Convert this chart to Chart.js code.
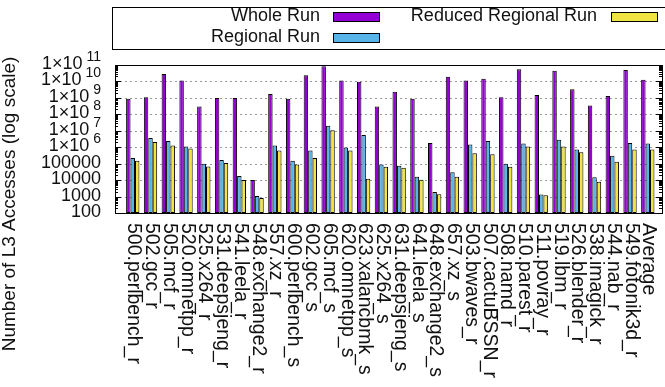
<!DOCTYPE html>
<html>
<head>
<meta charset="utf-8">
<script src="https://cdn.jsdelivr.net/npm/chart.js@4.4.1/dist/chart.umd.min.js"></script>
<style>
  body { margin: 0; background: #fff; }
  #l3-chart { display: block; }
</style>
</head>
<body>
<canvas id="l3-chart" width="665" height="387"></canvas>
<script>
const categories = [
  "500.perlbench_r", "502.gcc_r", "505.mcf_r", "520.omnetpp_r", "525.x264_r",
  "531.deepsjeng_r", "541.leela_r", "548.exchange2_r", "557.xz_r", "600.perlbench_s",
  "602.gcc_s", "605.mcf_s", "620.omnetpp_s", "623.xalancbmk_s", "625.x264_s",
  "631.deepsjeng_s", "641.leela_s", "648.exchange2_s", "657.xz_s", "503.bwaves_r",
  "507.cactuBSSN_r", "508.namd_r", "510.parest_r", "511.povray_r", "519.lbm_r",
  "526.blender_r", "538.imagick_r", "544.nab_r", "549.fotonik3d_r", "Average"
];

const wholeRun = [
  9e8, 1.1e9, 2.8e10, 1.15e10, 3e8,
  9.8e8, 1e9, 1e4, 1.7e9, 9e8,
  2.4e10, 8.5e10, 1.15e10, 9.5e9, 3e8,
  2.4e9, 9e8, 1.8e6, 1.9e10, 1.15e10,
  1.45e10, 1.1e9, 5.6e10, 1.5e9, 4.4e10,
  3.4e9, 3.5e8, 1.3e9, 4.9e10, 1.26e10
];

const regionalRun = [
  2.2e5, 3.7e6, 2.4e6, 1.1e6, 9.8e4,
  1.7e5, 1.75e4, 1070, 1.26e6, 1.5e5,
  6.3e5, 2e7, 9.5e5, 5.6e6, 8.9e4,
  7.4e4, 1.6e4, 1870, 3e4, 1.45e6,
  2.4e6, 9.8e4, 1.7e6, 1350, 2.8e6,
  7.2e5, 1.5e4, 3e5, 1.8e6, 1.7e6
];

const reducedRegionalRun = [
  1.5e5, 2.1e6, 1.26e6, 8.3e5, 6.7e4,
  1.1e5, 1e4, 810, 6.3e5, 8.9e4,
  2.2e5, 1.07e7, 6.3e5, 1.2e4, 6.4e4,
  5.6e4, 1.05e4, 1400, 1.6e4, 4.3e5,
  3.8e5, 6.4e4, 1.1e6, 1180, 1.1e6,
  5e5, 7900, 1.3e5, 7.2e5, 7.2e5
];

const yTickValues = [100, 1e3, 1e4, 1e5, 1e6, 1e7, 1e8, 1e9, 1e10, 1e11];
const yTickLabels = ["100", "1000", "10000", "100000", "1×10^6", "1×10^7", "1×10^8", "1×10^9", "1×10^10", "1×10^11"];

const seriesNames = ["Whole Run", "Regional Run", "Reduced Regional Run"];
const seriesColors = ["#9400d3", "#56b4e9", "#f0e442"];
const yTitle = "Number of L3 Accesses (log scale)";

const FONT = "'Liberation Sans', Arial, sans-serif";

function toPoints(values) {
  return values.map((v, i) => ({ x: i, y: v }));
}

// gnuplot-like frame, ticks, labels and key
const gnuplotDecor = {
  id: "gnuplotDecor",
  beforeDatasetsDraw(chart) {
    const { ctx, chartArea: a, scales: { y } } = chart;
    ctx.save();
    ctx.strokeStyle = "#999";
    ctx.lineWidth = 1;
    ctx.setLineDash([2, 3]);
    yTickValues.forEach(v => {
      const py = Math.round(y.getPixelForValue(v)) + 0.5;
      if (py <= a.top + 1 || py >= a.bottom - 1) return;
      ctx.beginPath();
      ctx.moveTo(a.left, py);
      ctx.lineTo(a.right, py);
      ctx.stroke();
    });
    ctx.restore();
  },
  afterDatasetsDraw(chart) {
    const { ctx, chartArea: a, scales: { x, y } } = chart;
    ctx.save();

    // border
    ctx.strokeStyle = "#000";
    ctx.lineWidth = 1;
    ctx.strokeRect(Math.round(a.left) + 0.5, Math.round(a.top) + 0.5,
      Math.round(a.right - a.left), Math.round(a.bottom - a.top));

    // major + minor ticks on left and right
    ctx.beginPath();
    for (let d = 2; d <= 11; d++) {
      for (let m = 1; m <= 9; m++) {
        const v = m * Math.pow(10, d);
        if (v > 1e11) break;
        const py = Math.round(y.getPixelForValue(v)) + 0.5;
        const len = m === 1 ? 6 : 3;
        ctx.moveTo(a.left, py);
        ctx.lineTo(a.left + len, py);
        ctx.moveTo(a.right, py);
        ctx.lineTo(a.right - len, py);
      }
    }
    ctx.stroke();

    // y tick labels
    ctx.fillStyle = "#111";
    ctx.textBaseline = "middle";
    yTickValues.forEach((v, i) => {
      const py = y.getPixelForValue(v) - 1;
      const label = yTickLabels[i];
      const rightX = 101;
      if (label.includes("^")) {
        const [base, exp] = label.split("^");
        ctx.font = "14px " + FONT;
        const ew = ctx.measureText(exp).width;
        ctx.textAlign = "right";
        ctx.fillText(exp, rightX, py - 7);
        ctx.font = "18px " + FONT;
        ctx.fillText(base, rightX - ew - 4, py);
      } else {
        ctx.font = "18px " + FONT;
        ctx.textAlign = "right";
        ctx.fillText(label, rightX, py);
      }
    });

    // x labels, rotated clockwise
    ctx.font = "19.5px " + FONT;
    ctx.textAlign = "left";
    ctx.textBaseline = "middle";
    categories.forEach((c, i) => {
      const px = x.getPixelForValue(i) + 1;
      ctx.save();
      ctx.translate(px, a.bottom + 10);
      ctx.rotate(Math.PI / 2);
      ctx.fillText(c, 0, 0);
      ctx.restore();
    });

    // y title
    ctx.font = "19px " + FONT;
    ctx.textAlign = "center";
    ctx.save();
    ctx.translate(10, 204);
    ctx.rotate(-Math.PI / 2);
    ctx.fillText(yTitle, 0, 0);
    ctx.restore();

    // key box
    ctx.strokeStyle = "#000";
    ctx.strokeRect(112.5, 7.5, 600, 42);
    const keyItems = [
      { textRight: 320, swatchX: 333, cy: 17 },
      { textRight: 320, swatchX: 333, cy: 38 },
      { textRight: 597, swatchX: 611, cy: 17 }
    ];
    ctx.font = "18px " + FONT;
    ctx.textAlign = "right";
    ctx.textBaseline = "middle";
    keyItems.forEach((k, i) => {
      ctx.fillStyle = "#111";
      ctx.fillText(seriesNames[i], k.textRight, k.cy - 1);
      ctx.fillStyle = seriesColors[i];
      ctx.fillRect(k.swatchX, k.cy - 5, 47, 10);
      ctx.strokeStyle = "#000";
      ctx.strokeRect(k.swatchX + 0.5, k.cy - 4.5, 46, 9);
    });

    ctx.restore();
  }
};

const datasets = [wholeRun, regionalRun, reducedRegionalRun].map((vals, i) => ({
  label: seriesNames[i],
  data: toPoints(vals),
  backgroundColor: seriesColors[i],
  borderColor: "#000",
  borderWidth: 1,
  borderSkipped: false,
  categoryPercentage: 0.75,
  barPercentage: 1.0
}));

new Chart(document.getElementById("l3-chart").getContext("2d"), {
  type: "bar",
  data: { datasets },
  options: {
    responsive: false,
    animation: false,
    layout: { padding: { left: 115, right: 3, top: 65, bottom: 174 } },
    plugins: {
      legend: { display: false },
      tooltip: { enabled: false }
    },
    scales: {
      x: { type: "linear", min: -1, max: 29.8, display: false, offset: false },
      y: { type: "logarithmic", min: 100, max: 1e11, display: false }
    }
  },
  plugins: [gnuplotDecor]
});
</script>
</body>
</html>
